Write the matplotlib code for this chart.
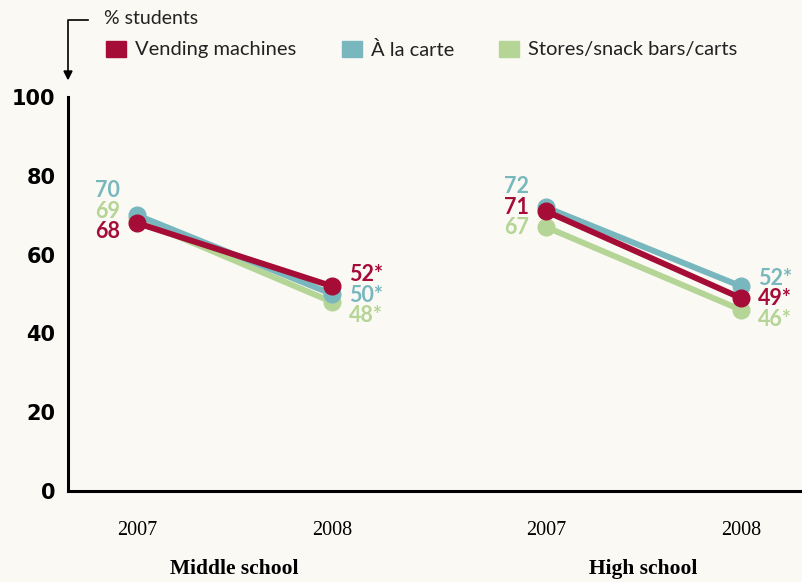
import matplotlib
matplotlib.use("Agg")
import matplotlib.pyplot as plt
from matplotlib.patches import Rectangle
from matplotlib.lines import Line2D
import numpy as np

# data
groups = ["Middle school", "High school"]
years = ["2007", "2008"]
series = ["Vending machines", "À la carte", "Stores/snack bars/carts"]
colors = ["#A50D37", "#79B7BE", "#B4D595"]
middle = {"Vending machines": [68, 52], "À la carte": [70, 50], "Stores/snack bars/carts": [69, 48]}
high = {"Vending machines": [71, 49], "À la carte": [72, 52], "Stores/snack bars/carts": [67, 46]}
sig_2008 = True  # 2008 values marked with *

xpos = [[0.0, 1.0], [2.1, 3.1]]
bg = "#FAF9F4"

fig = plt.figure(figsize=(8.03, 5.82), dpi=100, facecolor=bg)
ax = fig.add_axes([68 / 803, 91 / 582, 1 - 68 / 803, (491 - 97) / 582])
ax.set_facecolor(bg)

draw_order = ["Stores/snack bars/carts", "À la carte", "Vending machines"]
for gi, data in enumerate([middle, high]):
    for name in draw_order:
        c = colors[series.index(name)]
        ax.plot(xpos[gi], data[name], color=c, lw=4.3, marker="o", ms=12,
                solid_capstyle="round", zorder=3)

    # value labels, stacked in value order
    for yi in range(2):
        vals = sorted(series, key=lambda s: -data[s][yi])
        mean = np.mean([data[s][yi] for s in series])
        shift = 8 if yi == 0 else -1
        for k, name in enumerate(vals):
            v = data[name][yi]
            txt = str(v) + ("*" if yi == 1 and sig_2008 else "")
            dy = shift + (1 - k) * 20.5
            dx = -17 if yi == 0 else 17
            ax.annotate(txt, xy=(xpos[gi][yi], mean), xytext=(dx, dy),
                        textcoords="offset pixels",
                        ha="right" if yi == 0 else "left", va="center",
                        fontsize=15.5, fontweight="bold", family=["Lato", "DejaVu Sans"],
                        color=colors[series.index(name)], zorder=5)

ax.set_xlim(-0.355, 3.42)
ax.set_ylim(0, 100)
ax.set_yticks(range(0, 101, 20))
ax.set_yticklabels([str(v) for v in range(0, 101, 20)], fontsize=15,
                   fontweight="bold", family="DejaVu Sans")
ax.tick_params(axis="y", length=0, pad=9)
ax.set_xticks([])
for s in ["top", "right"]:
    ax.spines[s].set_visible(False)
ax.spines["left"].set_linewidth(2.2)
ax.spines["bottom"].set_linewidth(2.2)

# year labels and group labels
for gi in range(2):
    for yi in range(2):
        ax.text(xpos[gi][yi], -9.9, years[yi], ha="center", va="center",
                fontsize=14.5, family="Liberation Serif", clip_on=False)
    ax.text(np.mean(xpos[gi]), -19.8, groups[gi], ha="center", va="center",
            fontsize=15.5, fontweight="bold", family="Liberation Serif", clip_on=False)

# legend
W, H = 803, 582
fig.text(104 / W, 1 - 18 / H, "% students", fontsize=14, va="center",
         family=["Lato", "DejaVu Sans"], color="#222222")
leg_x = [106, 342, 499]
for i, name in enumerate(series):
    fig.patches.append(Rectangle((leg_x[i] / W, 1 - 57 / H), 20 / W, 15.5 / H,
                                 transform=fig.transFigure, color=colors[i]))
    fig.text((leg_x[i] + 29) / W, 1 - 50 / H, name, fontsize=14.5, va="center",
             family=["Lato", "DejaVu Sans"], color="#222222")

# bracket arrow
fig.add_artist(Line2D([88 / W, 68 / W, 68 / W], [1 - 20 / H, 1 - 20 / H, 1 - 72 / H],
                      transform=fig.transFigure, color="black", lw=1.2))
fig.add_artist(plt.Polygon([[64 / W, 1 - 71 / H], [72 / W, 1 - 71 / H], [68 / W, 1 - 79 / H]],
                           transform=fig.transFigure, color="black"))

fig.savefig("out.png", dpi=100, facecolor=bg)
